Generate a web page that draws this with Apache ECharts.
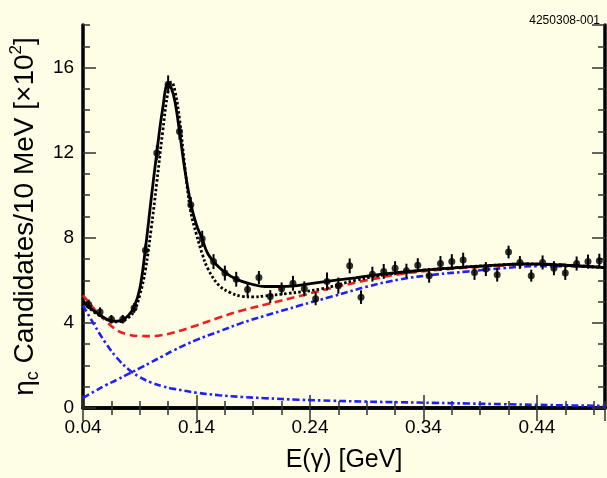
<!DOCTYPE html>
<html>
<head>
  <meta charset="utf-8">
  <script src="https://cdn.jsdelivr.net/npm/echarts@6/dist/echarts.min.js"></script>
  <style>
    html, body { margin: 0; padding: 0; background: #fefde6; }
  </style>
</head>
<body>
  <div id="id_chart" style="width: 607px; height: 478px;"></div>

  <script type="text/javascript">
    // measured points (bin centre, counts x100, error)
    var dataE = [0.045, 0.055, 0.065, 0.075, 0.085, 0.095, 0.105, 0.115, 0.125, 0.135,
      0.145, 0.155, 0.165, 0.175, 0.185, 0.195, 0.205, 0.215, 0.225, 0.235,
      0.245, 0.255, 0.265, 0.275, 0.285, 0.295, 0.305, 0.315, 0.325, 0.335,
      0.345, 0.355, 0.365, 0.375, 0.385, 0.395, 0.405, 0.415, 0.425, 0.435,
      0.445, 0.455, 0.465, 0.475, 0.485, 0.495];
    var dataCounts = [4.87, 4.51, 4.17, 4.17, 4.70, 7.41, 11.99, 15.21, 12.99, 9.55,
      7.95, 6.88, 6.34, 6.05, 5.57, 6.13, 5.24, 5.60, 5.86, 5.60,
      5.13, 5.95, 5.75, 6.68, 5.21, 6.29, 6.42, 6.57, 6.45, 6.71,
      6.22, 6.79, 6.88, 6.95, 6.37, 6.53, 6.26, 7.33, 6.84, 6.22,
      6.84, 6.57, 6.34, 6.79, 6.88, 6.92];
    var dataErr = [0.22, 0.22, 0.20, 0.20, 0.23, 0.28, 0.35, 0.42, 0.38, 0.36,
      0.38, 0.35, 0.35, 0.35, 0.33, 0.31, 0.30, 0.30, 0.35, 0.35,
      0.30, 0.42, 0.38, 0.35, 0.32, 0.35, 0.35, 0.33, 0.33, 0.33,
      0.33, 0.35, 0.35, 0.35, 0.35, 0.33, 0.32, 0.30, 0.30, 0.28,
      0.33, 0.33, 0.32, 0.33, 0.33, 0.33];

    // fit curves (solid = total fit, dotted = alternative fit)
    var fitE = [0.04, 0.05, 0.06, 0.065, 0.07, 0.075, 0.08, 0.085, 0.09, 0.095,
      0.10, 0.105, 0.11, 0.115, 0.118, 0.121, 0.125, 0.13, 0.135, 0.14,
      0.145, 0.15, 0.16, 0.17, 0.18, 0.19, 0.20, 0.22, 0.25, 0.28,
      0.31, 0.34, 0.37, 0.40, 0.43, 0.46, 0.50];
    var fitTotal = [5.0, 4.55, 4.2, 4.09, 4.08, 4.15, 4.35, 4.75, 5.6, 7.5,
      9.8, 12.0, 14.0, 15.25, 15.0, 14.4, 13.0, 11.1, 9.6, 8.6,
      7.95, 7.25, 6.6, 6.2, 5.95, 5.8, 5.71, 5.72, 5.92, 6.12,
      6.33, 6.48, 6.6, 6.7, 6.77, 6.72, 6.6];
    var fitAlt = [4.95, 4.5, 4.18, 4.08, 4.05, 4.1, 4.25, 4.55, 5.3, 6.5,
      8.4, 10.6, 12.9, 14.9, 15.32, 14.9, 13.6, 11.2, 9.2, 8.15,
      7.25, 6.55, 5.75, 5.42, 5.25, 5.22, 5.27, 5.38, 5.6, 6.0,
      6.3, 6.48, 6.6, 6.7, 6.77, 6.72, 6.6];

    // background components
    var bkgE = [0.04, 0.05, 0.06, 0.07, 0.08, 0.09, 0.10, 0.11, 0.12, 0.14,
      0.16, 0.18, 0.20, 0.23, 0.26, 0.29, 0.32, 0.35, 0.38, 0.41,
      0.44, 0.47, 0.50];
    var bkgTotal = [5.3, 4.65, 4.1, 3.65, 3.45, 3.38, 3.38, 3.43, 3.55, 3.88,
      4.25, 4.58, 4.85, 5.25, 5.65, 6.0, 6.3, 6.48, 6.6, 6.7,
      6.77, 6.72, 6.6];
    var bkgRise = [0.48, 0.78, 1.07, 1.33, 1.6, 1.87, 2.15, 2.43, 2.71, 3.2,
      3.6, 4.0, 4.33, 4.8, 5.25, 5.7, 6.05, 6.27, 6.42, 6.57,
      6.67, 6.66, 6.6];
    var bkgFall = [4.82, 3.9, 3.05, 2.35, 1.82, 1.45, 1.2, 1.02, 0.9, 0.72,
      0.6, 0.52, 0.46, 0.39, 0.34, 0.3, 0.27, 0.24, 0.21, 0.18,
      0.15, 0.12, 0.1];

    var xTicks = { min: 0.04, max: 0.50, major: 0.1, minor: 0.025 };
    var yTicks = { min: 0, max: 18, major: 4, minor: 1 };

    function zip(xs, ys) {
      var out = [];
      for (var i = 0; i < xs.length; i++) out.push([xs[i], ys[i]]);
      return out;
    }

    var pointData = [];
    for (var i = 0; i < dataE.length; i++) {
      pointData.push([dataE[i], dataCounts[i], dataErr[i]]);
    }

    var font = 'Liberation Sans, Arial, sans-serif';
    var frame = { show: true, lineStyle: { color: '#000', width: 3.5 } };

    function makeAxis(kind, pos, step, tickLen, isMain) {
      var r = kind === 'x' ? xTicks : yTicks;
      return {
        type: 'value',
        position: pos,
        min: r.min,
        max: r.max,
        interval: step,
        splitLine: { show: false },
        axisLine: isMain ? frame : { show: false },
        axisTick: { show: true, inside: true, length: tickLen, lineStyle: { color: '#333', width: 1.5 } },
        axisLabel: { show: false }
      };
    }

    var xAxes = [
      makeAxis('x', 'bottom', xTicks.major, 13, true),
      makeAxis('x', 'bottom', xTicks.minor, 7, false),
      makeAxis('x', 'top', xTicks.major, 13, true),
      makeAxis('x', 'top', xTicks.minor, 7, false)
    ];
    xAxes[0].axisLabel = {
      show: true, color: '#000', fontSize: 19, fontFamily: font, margin: 10,
      showMaxLabel: false,
      formatter: function (v) { return v.toFixed(2); }
    };
    xAxes[0].name = 'E(\u03b3) [GeV]';
    xAxes[0].nameLocation = 'middle';
    xAxes[0].nameGap = 40;
    xAxes[0].nameTextStyle = { color: '#000', fontSize: 25, fontFamily: font };

    var yAxes = [
      makeAxis('y', 'left', yTicks.major, 13, true),
      makeAxis('y', 'left', yTicks.minor, 7, false),
      makeAxis('y', 'right', yTicks.major, 13, true),
      makeAxis('y', 'right', yTicks.minor, 7, false)
    ];
    yAxes[0].axisLabel = {
      show: true, color: '#000', fontSize: 19, fontFamily: font, margin: 9,
      showMaxLabel: false
    };
    yAxes[0].name = '\u03b7{sub|c} Candidates/10 MeV [\u00d710{sup|2}]';
    yAxes[0].nameLocation = 'middle';
    yAxes[0].nameGap = 41;
    yAxes[0].nameTextStyle = {
      color: '#000', fontSize: 28, fontFamily: font, lineHeight: 34,
      rich: {
        sub: { fontSize: 18, fontFamily: font, color: '#000', verticalAlign: 'bottom', lineHeight: 34 },
        sup: { fontSize: 17, fontFamily: font, color: '#000', verticalAlign: 'top', lineHeight: 34 }
      }
    };

    function renderErr(params, api) {
      var x = api.value(0), y = api.value(1), e = api.value(2);
      var lo = api.coord([x, y - e]);
      var hi = api.coord([x, y + e]);
      return {
        type: 'line',
        shape: { x1: lo[0], y1: lo[1], x2: hi[0], y2: hi[1] },
        style: { stroke: '#000', lineWidth: 2 }
      };
    }

    function curve(data, color, type, width, z) {
      return {
        type: 'line', data: data, showSymbol: false, smooth: 0.4, z: z,
        lineStyle: { color: color, width: width, type: type }
      };
    }

    var myChart = echarts.init(document.getElementById('id_chart'));
    var option = {
      animation: false,
      backgroundColor: '#fefde6',
      title: {
        text: '4250308-001', right: 2, top: 10,
        textStyle: { fontSize: 12, fontWeight: 'normal', color: '#000', fontFamily: font }
      },
      grid: { left: 77, right: 2, top: 25, bottom: 66 },
      xAxis: xAxes,
      yAxis: yAxes,
      series: [
        curve(zip(bkgE, bkgFall), '#1f1fff', [7, 3, 2.5, 3], 2.6, 2),
        curve(zip(bkgE, bkgRise), '#1f1fff', [7, 3, 2.5, 3], 2.6, 2),
        curve(zip(bkgE, bkgTotal), '#f01e1e', [8, 4.5], 2.6, 3),
        curve(zip(fitE, fitAlt), '#000', [2.5, 2.2], 2.8, 4),
        curve(zip(fitE, fitTotal), '#000', 'solid', 2.8, 5),
        {
          type: 'custom', renderItem: renderErr, data: pointData,
          encode: { x: 0, y: 1 }, z: 6
        },
        {
          type: 'scatter', data: pointData, symbolSize: 7, z: 7,
          itemStyle: { color: '#000' }
        }
      ]
    };
    myChart.setOption(option);
  </script>
</body>
</html>
